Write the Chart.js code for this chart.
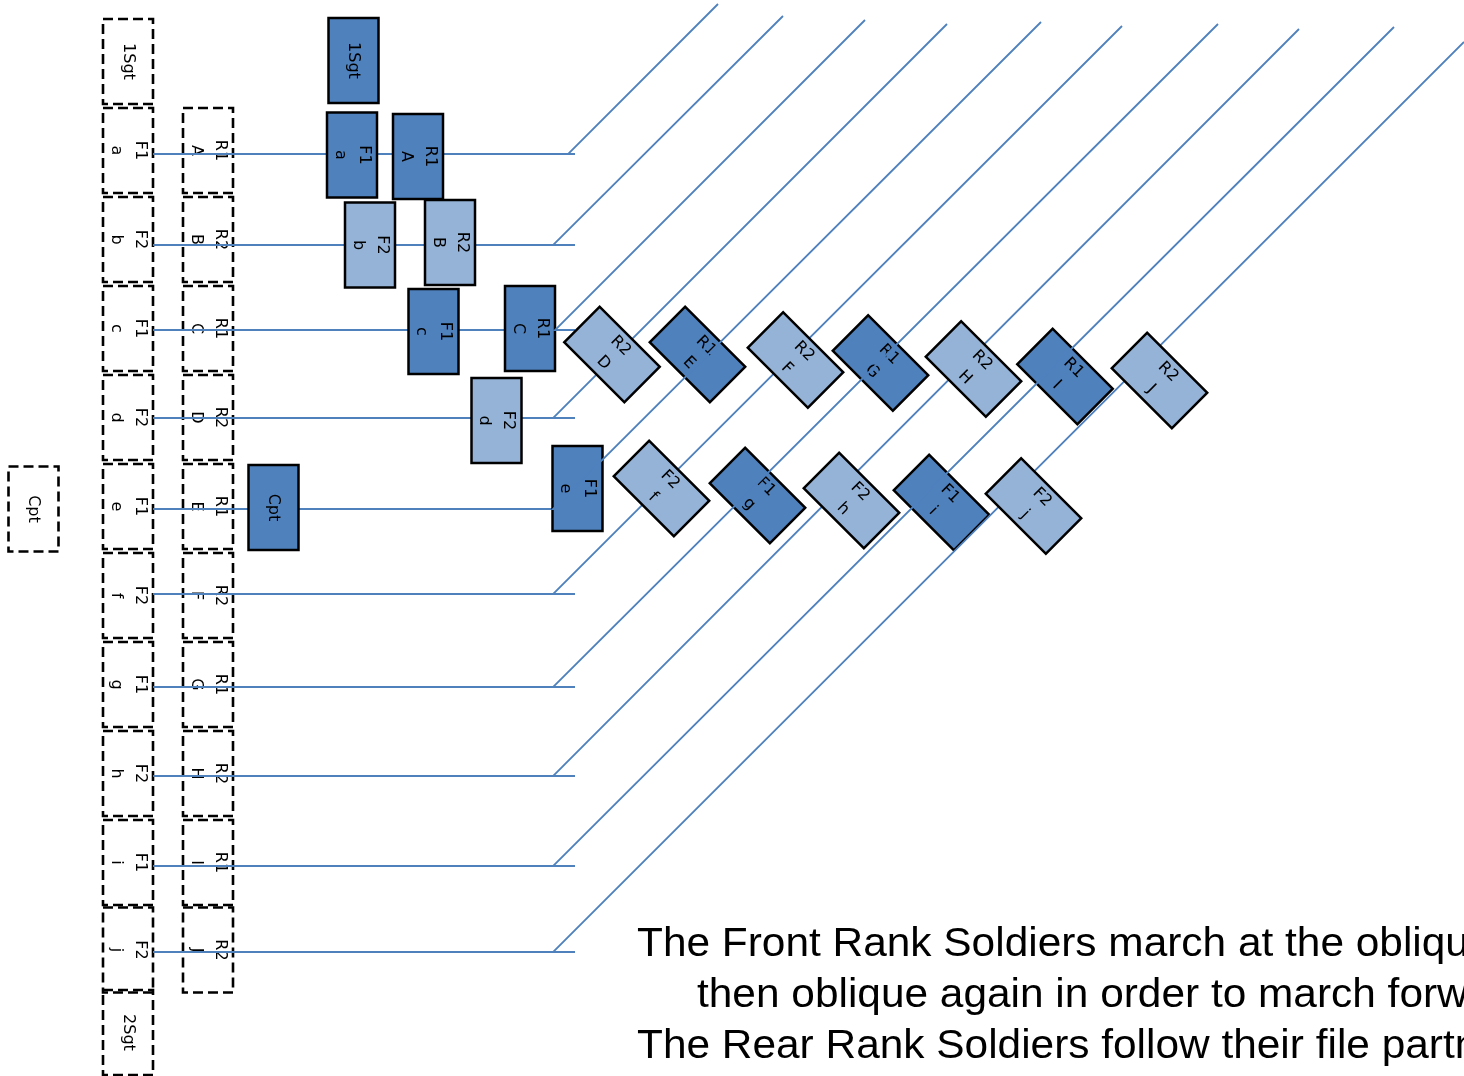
<!DOCTYPE html>
<html>
<head>
<meta charset="utf-8">
<script src="https://cdn.jsdelivr.net/npm/chart.js@4.4.0/dist/chart.umd.min.js"></script>
<style>
html,body{margin:0;padding:0;background:#fff;overflow:hidden}
#wrap{width:1464px;height:1076px;position:relative}
</style>
</head>
<body>
<div id="wrap"><canvas id="c"></canvas></div>
<script>
// ---------- data (diagram units = picture pixels) ----------
// Files / rows
const rowLetters = ['a','b','c','d','e','f','g','h','i','j'];
const rowLineY   = [154, 245, 330, 418, 509, 594, 687, 776, 866, 952];
const lineStartX = [153, 153, 153, 153, 153, 153, 153, 153, 153, 153];
const lineTurnX  = [568, 553, 555, 553, 553, 553, 553, 553, 553, 553];
const stubEndX   = [575, 575, 575, 575, 575, 575, 575, 575, 575, 575];
const diagTopX   = [718, 783, 865, 947, 1041, 1122, 1218, 1299, 1394, 1464];
const diagTopY   = [4, 16, 20, 24, 22, 26, 24, 29, 27, 42];

// Original formation (dashed outlines)
const slotLabels = ['1Sgt','F1\na','F2\nb','F1\nc','F2\nd','F1\ne','F2\nf','F1\ng','F2\nh','F1\ni','F2\nj','2Sgt',
                    'R1\nA','R2\nB','R1\nC','R2\nD','R1\nE','R2\nF','R1\nG','R2\nH','R1\nI','R2\nJ','Cpt'];
const slotX = [128,128,128,128,128,128,128,128,128,128,128,128,
               208,208,208,208,208,208,208,208,208,208,33.5];
const slotY = [61.5,150.5,239.5,328.5,417.5,506.5,595.5,684.5,773.5,862.5,950,1032.5,
               150.5,239.5,328.5,417.5,506.5,595.5,684.5,773.5,862.5,950,509];

// Soldiers on the move (solid boxes)
const soldierLabels = ['1Sgt','F1\na','R1\nA','F2\nb','R2\nB','F1\nc','R1\nC','F2\nd','F1\ne','Cpt',
                       'R2\nD','R1\nE','R2\nF','R1\nG','R2\nH','R1\nI','R2\nJ',
                       'F2\nf','F1\ng','F2\nh','F1\ni','F2\nj'];
const soldierX = [353.5,352,418,370,450,433.5,530,496.5,577.5,273.5,
                  612,697.5,795.5,880.5,973.5,1065,1159.5,
                  661.5,757.5,851.5,941.5,1033.5];
const soldierY = [60.5,155,156.5,245,242.5,331.5,328.5,420.5,488.5,507.5,
                  354.5,354.5,360,363,369,376.5,380.5,
                  488.5,495.5,500.5,502.5,506];
const soldierTilt = [0,0,0,0,0,0,0,0,0,0,
                     -45,-45,-45,-45,-45,-45,-45,
                     -45,-45,-45,-45,-45];
const soldierRank = ['dark','dark','dark','light','light','dark','dark','light','dark','dark',
                     'light','dark','light','dark','light','dark','light',
                     'light','dark','light','dark','light'];

// Caption
const captionLines = ['The Front Rank Soldiers march at the oblique until they clear the formation,',
                      'then oblique again in order to march forward.',
                      'The Rear Rank Soldiers follow their file partners.'];
const captionX = [637, 697, 637];
const captionY = [956, 1007, 1058];

// ---------- styles ----------
const BOX_W = 50, BOX_H = 85;
const COLORS = { dark: '#4F81BD', light: '#95B3D7', line: '#4F81BD' };
const BOX_FONT = '16px "DejaVu Sans"';
const CAPTION_FONT = '40px "Liberation Sans", Arial, sans-serif';
const CAPTION_STRETCH = 1.06;

// ---------- datasets built from the arrays ----------
const horizData = [];
const diagData = [];
rowLetters.forEach((r, i) => {
  horizData.push({x: lineStartX[i], y: rowLineY[i]}, {x: lineTurnX[i], y: rowLineY[i]}, {x: lineTurnX[i], y: null});
  diagData.push({x: stubEndX[i], y: rowLineY[i]}, {x: lineTurnX[i], y: rowLineY[i]},
                {x: diagTopX[i], y: diagTopY[i]}, {x: diagTopX[i], y: null});
});

function px(chart, x, y) {
  return [chart.scales.x.getPixelForValue(x), chart.scales.y.getPixelForValue(y)];
}
function unit(chart) {
  const s = chart.scales.x;
  return (s.getPixelForValue(100) - s.getPixelForValue(0)) / 100;
}
function drawLabel(ctx, label, k) {
  const parts = label.split('\n');
  ctx.save();
  ctx.rotate(Math.PI / 2);
  ctx.fillStyle = '#000';
  ctx.font = BOX_FONT;
  ctx.textAlign = 'center';
  ctx.textBaseline = 'middle';
  if (parts.length === 1) {
    ctx.fillText(parts[0], 0, 0);
  } else {
    ctx.fillText(parts[0], 0, -12 * k);
    ctx.fillText(parts[1], 0, 12 * k);
  }
  ctx.restore();
}
function drawSlots(chart) {
  const ctx = chart.ctx, k = unit(chart);
  slotLabels.forEach((lab, i) => {
    const [cx, cy] = px(chart, slotX[i], slotY[i]);
    ctx.save();
    ctx.translate(cx, cy);
    ctx.strokeStyle = '#000';
    ctx.lineWidth = 2.6;
    ctx.setLineDash([10, 5]);
    ctx.strokeRect(-BOX_W * k / 2, -BOX_H * k / 2, BOX_W * k, BOX_H * k);
    ctx.setLineDash([]);
    drawLabel(ctx, lab, k);
    ctx.restore();
  });
}
function drawSoldiers(chart, layer) {
  const ctx = chart.ctx, k = unit(chart);
  soldierLabels.forEach((lab, i) => {
    const over = soldierTilt[i] !== 0 && soldierRank[i] === 'light';
    if ((layer === 'over') !== over) return;
    const [cx, cy] = px(chart, soldierX[i], soldierY[i]);
    ctx.save();
    ctx.translate(cx, cy);
    ctx.rotate(soldierTilt[i] * Math.PI / 180);
    ctx.fillStyle = COLORS[soldierRank[i]];
    ctx.fillRect(-BOX_W * k / 2, -BOX_H * k / 2, BOX_W * k, BOX_H * k);
    ctx.strokeStyle = '#000';
    ctx.lineWidth = 2.5;
    ctx.lineJoin = 'miter';
    ctx.strokeRect(-BOX_W * k / 2, -BOX_H * k / 2, BOX_W * k, BOX_H * k);
    drawLabel(ctx, lab, k);
    ctx.restore();
  });
}
function drawCaption(chart) {
  const ctx = chart.ctx;
  captionLines.forEach((t, i) => {
    const [x, y] = px(chart, captionX[i], captionY[i]);
    ctx.save();
    ctx.fillStyle = '#000';
    ctx.font = CAPTION_FONT;
    ctx.textAlign = 'left';
    ctx.textBaseline = 'alphabetic';
    ctx.translate(x, y);
    ctx.scale(CAPTION_STRETCH, 1);
    ctx.fillText(t, 0, 0);
    ctx.restore();
  });
}

const diagramPlugin = {
  id: 'diagram',
  beforeDatasetsDraw(chart) { drawSlots(chart); },
  afterDatasetDraw(chart, args) { if (args.index === 0) drawSoldiers(chart, 'under'); },
  afterDatasetsDraw(chart) { drawSoldiers(chart, 'over'); drawCaption(chart); }
};

new Chart(document.getElementById('c'), {
  type: 'scatter',
  data: {
    datasets: [
      { label: 'file lines', data: horizData, showLine: true, spanGaps: false, order: 2,
        borderColor: COLORS.line, borderWidth: 1.8, pointRadius: 0, pointHoverRadius: 0, fill: false, tension: 0 },
      { label: 'oblique paths', data: diagData, showLine: true, spanGaps: false, order: 1,
        borderColor: COLORS.line, borderWidth: 1.8, pointRadius: 0, pointHoverRadius: 0, fill: false, tension: 0 }
    ]
  },
  options: {
    responsive: true,
    maintainAspectRatio: false,
    animation: false,
    layout: { padding: 0 },
    plugins: { legend: { display: false }, tooltip: { enabled: false } },
    events: [],
    scales: {
      x: { type: 'linear', min: 0, max: 1464, display: false },
      y: { type: 'linear', min: 0, max: 1076, reverse: true, display: false }
    }
  },
  plugins: [diagramPlugin]
});
</script>
</body>
</html>
